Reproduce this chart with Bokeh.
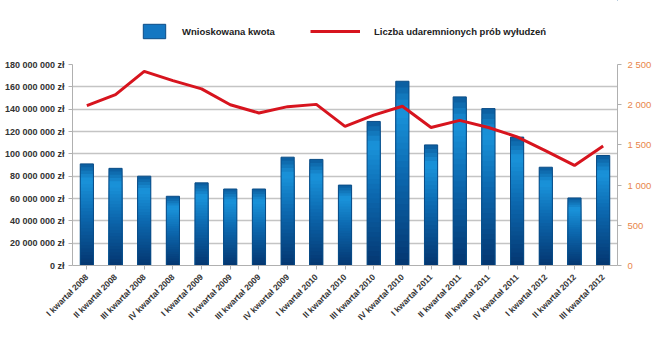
import numpy as np
from bokeh.plotting import figure
from bokeh.layouts import column
from bokeh.models import (FactorRange, Range1d, LinearAxis, FixedTicker, CustomJSTickFormatter,
                          Legend, LegendItem)
from bokeh.embed import file_html
from bokeh.resources import INLINE

quarters = ["I kwartał 2008", "II kwartał 2008", "III kwartał 2008", "IV kwartał 2008",
            "I kwartał 2009", "II kwartał 2009", "III kwartał 2009", "IV kwartał 2009",
            "I kwartał 2010", "II kwartał 2010", "III kwartał 2010", "IV kwartał 2010",
            "I kwartał 2011", "II kwartał 2011", "III kwartał 2011", "IV kwartał 2011",
            "I kwartał 2012", "II kwartał 2012", "III kwartał 2012"]
kwota = [91e6, 87e6, 80e6, 62e6, 74e6, 68.5e6, 68.5e6, 97e6,
         95e6, 72e6, 129e6, 165e6, 108e6, 151e6, 140.5e6, 115e6,
         88e6, 60.5e6, 98.5e6]
proby = [1988, 2125, 2415, 2300, 2197, 2000, 1897, 1976,
         2004, 1730, 1870, 1980, 1717, 1805, 1717, 1600,
         1425, 1245, 1485]
left_ticks = [0, 20e6, 40e6, 60e6, 80e6, 100e6, 120e6, 140e6, 160e6, 180e6]
right_ticks = [0, 500, 1000, 1500, 2000, 2500]
series_names = ["Wnioskowana kwota", "Liczba udaremnionych prób wyłudzeń"]

FONT = "Liberation Sans"
LINE_COLOR = "#d7141e"
BAR_LEGEND_COLOR = "#1477c2"

# ---------- main chart ----------
p = figure(width=660, height=285, x_range=FactorRange(*quarters),
           y_range=Range1d(0, 180e6), output_backend="svg", toolbar_location=None,
           min_border_left=72, min_border_right=43, min_border_top=6, min_border_bottom=78)
p.x_range.range_padding = 0.0
p.outline_line_color = None
p.background_fill_color = "white"
p.border_fill_color = "white"
p.extra_y_ranges = {"count": Range1d(0, 2500)}

# gradient bars: stacked layers of decreasing fraction of each value
stops = [(0.0, (4, 54, 112)), (0.5, (12, 105, 176)), (0.84, (26, 148, 219)), (1.0, (10, 90, 155))]
def col(t):
    for (t0, c0), (t1, c1) in zip(stops[:-1], stops[1:]):
        if t0 <= t <= t1:
            f = (t - t0) / (t1 - t0)
            c = [int(round(a + (b - a) * f)) for a, b in zip(c0, c1)]
            return "#%02x%02x%02x" % tuple(c)
    return "#%02x%02x%02x" % stops[-1][1]

N = 30
kw = np.array(kwota)
for i in range(N - 1, -1, -1):
    f1 = (i + 1) / N
    p.vbar(x=quarters, bottom=0, top=kw * f1, width=0.46,
           fill_color=col(f1 - 0.5 / N), line_color=None)
p.vbar(x=quarters, bottom=0, top=kwota, width=0.46, fill_color=None,
       line_color="#0a4c86", line_width=1)

p.line(x=quarters, y=proby, y_range_name="count", line_color=LINE_COLOR, line_width=3)

p.ygrid.ticker = FixedTicker(ticks=left_ticks)
p.ygrid.grid_line_color = "#c4c4c4"
p.ygrid.grid_line_width = 1.5
p.xgrid.grid_line_color = None

fmt_left = "return Math.round(tick).toString().replace(/\\B(?=(\\d{3})+(?!\\d))/g, ' ') + ' zł';"
fmt_right = "return Math.round(tick).toString().replace(/\\B(?=(\\d{3})+(?!\\d))/g, ' ');"

ya = p.yaxis[0]
ya.ticker = FixedTicker(ticks=left_ticks)
ya.formatter = CustomJSTickFormatter(code=fmt_left)
ya.major_label_text_font = FONT
ya.major_label_text_font_style = "bold"
ya.major_label_text_font_size = "9px"
ya.major_label_text_color = "#333333"
ya.axis_line_color = "#b0b0b0"
ya.major_tick_line_color = "#b0b0b0"
ya.major_tick_out = 4
ya.major_tick_in = 0
ya.minor_tick_line_color = None
ya.major_label_standoff = 4

ra = LinearAxis(y_range_name="count", ticker=FixedTicker(ticks=right_ticks))
ra.formatter = CustomJSTickFormatter(code=fmt_right)
ra.major_label_text_font = FONT
ra.major_label_text_font_size = "9.5px"
ra.major_label_text_color = "#e8864a"
ra.axis_line_color = "#b0b0b0"
ra.major_tick_line_color = "#b0b0b0"
ra.major_tick_out = 4
ra.major_tick_in = 0
ra.minor_tick_line_color = None
ra.major_label_standoff = 6
p.add_layout(ra, "right")

xa = p.xaxis[0]
xa.major_label_orientation = np.pi / 4
xa.major_label_text_font = FONT
xa.major_label_text_font_style = "bold"
xa.major_label_text_font_size = "8.5px"
xa.major_label_text_color = "#333333"
xa.axis_line_color = "#b0b0b0"
xa.major_tick_line_color = "#b0b0b0"
xa.major_tick_out = 4
xa.major_tick_in = 0
xa.major_label_standoff = 6

# ---------- legend strip (frame is aligned with the chart's frame) ----------
lf = figure(width=660, height=58, x_range=Range1d(0, 1), y_range=Range1d(0, 1),
            output_backend="svg", toolbar_location=None,
            min_border_left=72, min_border_right=43, min_border_top=0, min_border_bottom=0)
lf.axis.visible = False
lf.grid.visible = False
lf.outline_line_color = None
r_bar = lf.vbar(x=[5], top=[5], bottom=[4], width=0.5, fill_color=BAR_LEGEND_COLOR, line_color="#0a4c86")
r_line = lf.line(x=[5, 6], y=[5, 5], line_color=LINE_COLOR, line_width=3)

def mk_legend(item, loc, gw, gh):
    lg = Legend(items=[item], location=loc, orientation="horizontal",
                glyph_width=gw, glyph_height=gh, label_standoff=14,
                padding=0, margin=0, border_line_alpha=0, background_fill_alpha=0,
                label_text_font=FONT, label_text_font_style="bold",
                label_text_font_size="9.5px", label_text_color="#222222")
    lf.add_layout(lg, "center")

mk_legend(LegendItem(label=series_names[0], renderers=[r_bar]), (68, 18), 28, 18)
mk_legend(LegendItem(label=series_names[1], renderers=[r_line]), (238, 18), 50, 18)

layout = column(lf, p, spacing=0)
open("out.html", "w").write(file_html(layout, INLINE))
